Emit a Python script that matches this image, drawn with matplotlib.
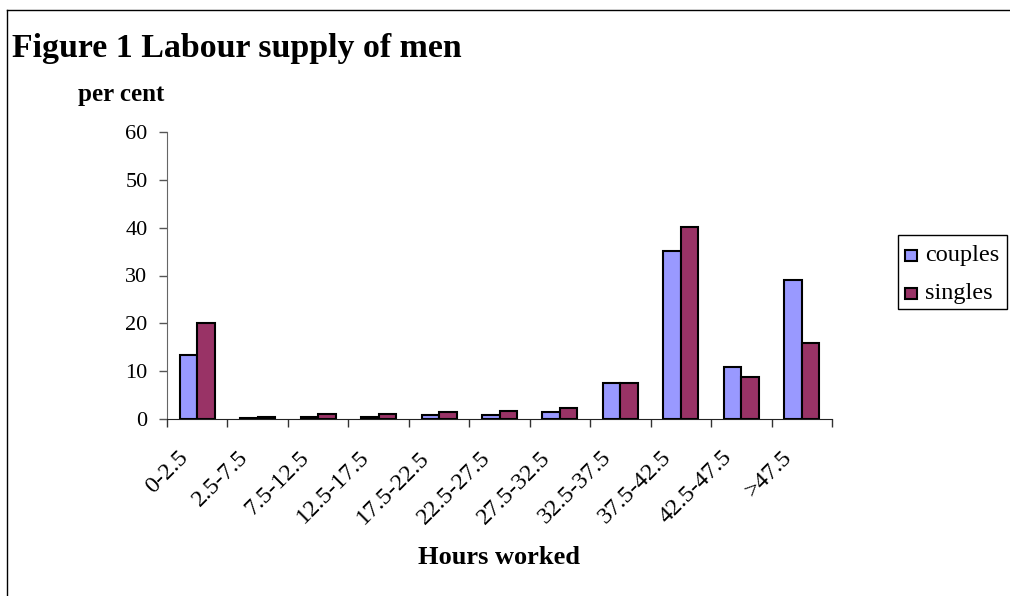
import matplotlib
matplotlib.use("Agg")
import matplotlib.pyplot as plt
import matplotlib.transforms as mtransforms
import numpy as np
from matplotlib.lines import Line2D
from matplotlib.patches import Rectangle

categories = ["0-2.5", "2.5-7.5", "7.5-12.5", "12.5-17.5", "17.5-22.5", "22.5-27.5",
              "27.5-32.5", "32.5-37.5", "37.5-42.5", "42.5-47.5", ">47.5"]
couples = [13.4, 0.3, 0.5, 0.5, 0.75, 0.75, 1.4, 7.5, 35.1, 10.8, 29.1]
singles = [20.1, 0.5, 1.0, 1.0, 1.4, 1.6, 2.4, 7.5, 40.1, 8.85, 15.9]
yticks = [0, 10, 20, 30, 40, 50, 60]
series_names = ["couples", "singles"]
colors = ["#9999FF", "#993366"]

plt.rcParams['font.family'] = ['Liberation Serif', 'DejaVu Serif']

W, H = 1010, 596
fig = plt.figure(figsize=(W / 100, H / 100), dpi=100)
fig.patch.set_facecolor('white')

def fx(px):
    return px / W

def fy(py):
    return 1 - py / H

# outer frame (clipped at right/bottom)
fig.add_artist(Line2D([fx(7), fx(1010)], [fy(10), fy(10)], color='black', lw=1.0))
fig.add_artist(Line2D([fx(7), fx(7)], [fy(10), fy(596)], color='black', lw=1.0))

ax = fig.add_axes([fx(167), fy(419), fx(832) - fx(167), fy(132) - fy(419)])
x = np.arange(len(categories))
w = 0.29
ax.bar(x - w / 2, couples, w, color=colors[0], edgecolor='black', linewidth=1.5, zorder=3)
ax.bar(x + w / 2, singles, w, color=colors[1], edgecolor='black', linewidth=1.5, zorder=3)

ax.set_xlim(-0.5, len(categories) - 0.5)
ax.set_ylim(0, 60)
ax.set_yticks(yticks)
ax.set_yticklabels([str(t) for t in yticks], fontsize=16)
ax.set_xticks([])
ax.set_xticks(np.arange(len(categories) + 1) - 0.5, minor=True)
ax.tick_params(axis='x', which='minor', length=6, width=1, color='#333333')
ax.tick_params(axis='y', length=6, width=1, color='#555555', pad=8)
for s in ['top', 'right']:
    ax.spines[s].set_visible(False)
ax.spines['left'].set_color('#666666')
ax.spines['bottom'].set_color('#222222')

# rotated category labels
offset = mtransforms.ScaledTranslation(-20 / 100, -28 / 100, fig.dpi_scale_trans)
trans = ax.get_xaxis_transform() + offset
for xi, lab in zip(x, categories):
    ax.text(xi, 0, lab, transform=trans, rotation=45, rotation_mode='anchor',
            ha='right', va='top', fontsize=17.5, clip_on=False)

fig.text(fx(12), fy(48), "Figure 1 Labour supply of men", fontsize=24.4, fontweight='bold',
         ha='left', va='center')
fig.text(fx(121.5), fy(95), "per cent", fontsize=18, fontweight='bold', ha='center', va='center')
fig.text(fx(499), fy(557), "Hours worked", fontsize=19, fontweight='bold', ha='center', va='center')

# legend
fig.add_artist(Rectangle((fx(898), fy(309)), fx(1007) - fx(898), fy(235) - fy(309),
                         transform=fig.transFigure, facecolor='white', edgecolor='black', lw=1.0))
for i, (name, c) in enumerate(zip(series_names, colors)):
    yc = 255 + 38 * i
    fig.add_artist(Rectangle((fx(905), fy(yc + 5.5)), fx(12), 11 / H,
                             transform=fig.transFigure, facecolor=c, edgecolor='black', lw=1.5))
    fig.text(fx(925), fy(yc), name, fontsize=17.5, ha='left', va='center')

fig.savefig("out.png", dpi=100)
